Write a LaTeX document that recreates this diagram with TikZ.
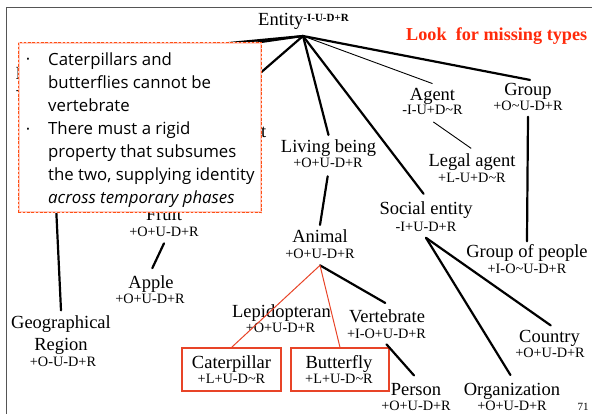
\documentclass[tikz,border=0pt]{standalone}
\usepackage{fontspec}
\setmainfont{Liberation Serif}
\newfontfamily\notefont{Open Sans}
\usetikzlibrary{calc}

\definecolor{notered}{RGB}{255,42,10}
\definecolor{boxred}{RGB}{232,68,40}
\definecolor{dashorange}{RGB}{255,80,20}
\definecolor{notepink}{RGB}{255,205,195}
\definecolor{framegray}{RGB}{85,85,85}

\newcommand\tnamefont{\fontsize{18.5}{22}\selectfont}
\newcommand\tsubfont{\fontsize{14.3}{16}\selectfont}
\newcommand\tnotefont{\notefont\fontsize{16.8}{23}\selectfont}

\begin{document}
\begin{tikzpicture}[x=1pt,y=-1pt,
  nm/.style={font=\tnamefont, inner sep=5pt, anchor=base},
  sub/.style={font=\tsubfont, inner sep=6pt, anchor=base},
  frag/.style={inner sep=0pt, anchor=base west},
  heavy/.style={line width=2.2pt, line cap=round},
  light/.style={line width=0.9pt},
  redlink/.style={line width=1pt, draw=boxred},
  redbox/.style={draw=boxred, line width=1.1pt, inner sep=0pt, minimum height=43pt},
  notebox/.style={fill=white, draw=notepink, line width=1.6pt, inner sep=0pt},
  notedash/.style={draw=dashorange, line width=0.8pt, dash pattern=on 2.5pt off 1.8pt},
  notetext/.style={font=\tnotefont, align=left, inner sep=0pt, anchor=north west},
  bulletmark/.style={font=\notefont\fontsize{9}{10}\selectfont, inner sep=0pt}
]
\useasboundingbox (0,0) rectangle (592,414);

% slide frame
\draw[framegray, line width=1pt] (6,414) -- (6,8) -- (592,8);

% root of the taxonomy
\node[inner sep=0pt, anchor=base west] (entity) at (258,26)
  {{\tnamefont Entity}\raisebox{4.5pt}{\fontsize{11}{12}\selectfont\bfseries -I-U-D+R}};
\coordinate (hub) at (303,36);

\node[anchor=base west, inner sep=0pt, text=notered,
      font=\fontsize{18.2}{20}\selectfont\bfseries] (look) at (406,41) {Look\ \ for missing types};

% branches that run under the note
\coordinate (locroot) at (20,63);
\coordinate (matroot) at (120,62);
\coordinate (physroot) at (205,121);
\coordinate (georoot) at (51,100);
\node[frag, font=\tnamefont] (locfrag) at (15.5,80) {L};
\node[frag, font=\tsubfont] (locsubfrag) at (15.8,95) {-};
\node[frag, font=\tnamefont] (physfrag) at (261,138) {t};
\draw[heavy] (hub) -- (locroot);
\draw[heavy] (hub) -- (matroot);
\draw[heavy] (hub) -- (physroot);

% upper right
\node[nm] (agent) at (432.5,101) {Agent};
\node[sub] (agents) at (432.5,115) {-I-U+D\textasciitilde R};
\node[nm, inner sep=4pt] (group) at (528,96) {Group};
\node[sub] (groups) at (528,110.5) {+O\textasciitilde U-D+R};
\node[nm] (legal) at (472,167) {Legal agent};
\node[sub] (legals) at (472,182.5) {+L-U+D\textasciitilde R};
\node[nm] (living) at (328.5,153) {Living being};
\node[sub] (livings) at (328,168) {+O+U-D+R};
\node[nm] (social) at (426,215) {Social entity};
\node[sub] (socials) at (426,231.5) {-I+U-D+R};
\node[nm] (gop) at (527,258) {Group of people};
\node[sub] (gops) at (527,274) {+I-O\textasciitilde U-D+R};

% animals
\node[nm] (animal) at (320,243) {Animal};
\node[sub] (animals) at (320,259) {+O+U-D+R};
\node[nm] (lepi) at (281.5,317) {Lepidopteran};
\node[sub] (lepis) at (280.5,332) {+O+U-D+R};
\node[nm] (vert) at (387,322) {Vertebrate};
\node[sub] (verts) at (386.5,338) {+I-O+U-D+R};
\node[redbox, minimum width=99pt] (catbox) at (231.5,369.5) {};
\node[nm] (cat) at (231.5,368) {Caterpillar};
\node[sub] (cats) at (231.5,383) {+L+U-D\textasciitilde R};
\node[redbox, minimum width=98pt] (butbox) at (340,369.5) {};
\node[nm] (but) at (339,368) {Butterfly};
\node[sub] (buts) at (339,383) {+L+U-D\textasciitilde R};
\node[nm] (person) at (416,395) {Person};
\node[sub] (persons) at (416,410) {+O+U-D+R};
\node[nm] (org) at (512,395) {Organization};
\node[sub] (orgs) at (512,410) {+O+U-D+R};
\node[nm] (country) at (549.5,342) {Country};
\node[sub] (countrys) at (550,357) {+O+U-D+R};

% left part
\node[nm] (fruit) at (164,221) {Fruit};
\node[sub] (fruits) at (164,237) {+O+U-D+R};
\node[nm] (apple) at (151,289) {Apple};
\node[sub] (apples) at (150,304) {+O+U-D+R};
\node[font=\tnamefont, inner sep=5pt, align=center, anchor=north] (geo) at (61,310.4) {Geographical\\Region};
\node[sub] (geos) at (63,366) {+O-U-D+R};

\node[anchor=base, inner sep=0pt, font=\fontsize{11}{12}\selectfont] (pgnum) at (583,410) {71};

% links
\draw[light] (hub) -- (agent.north);
\draw[heavy, shorten >=-2pt] (hub) -- (group.north);
\draw[heavy] (hub) -- (living.north);
\draw[heavy, shorten >=4pt] (hub) -- (social.north);
\draw[light, shorten <=1pt, shorten >=1pt] (agents.south) -- (legal.north);
\draw[heavy, shorten >=-1.5pt] (groups.south) -- (gop.north);
\draw[heavy, shorten <=2pt] (livings.south) -- (animal.north);
\draw[heavy, shorten >=2pt] (animals.south) -- (vert.north);
\draw[redlink] (animals.south) -- (catbox.north);
\draw[redlink] (animals.south) -- (butbox.north);
\draw[heavy, shorten >=3pt] (verts.south) -- (person.north);
\draw[heavy, shorten >=3pt] (socials.south) -- (org.north);
\draw[heavy, shorten >=-1.5pt] (socials.south) -- (country.north);
\draw[heavy, shorten >=3pt] (fruits.south) -- (apple.north);
\draw[heavy] (georoot) -- (geo.north);

% note laid over the left branches
\node[notebox, minimum width=242pt, minimum height=169pt] (note) at (140,127.5) {};
\draw[notedash] (note.south west) rectangle (note.north east);
\node[bulletmark] (bulleta) at (28,60) {\textbullet};
\node[notetext] (notea) at (48,53)
  {Caterpillars and\\butterflies cannot be\\vertebrate};
\node[bulletmark] (bulletb) at (28,130) {\textbullet};
\node[notetext] (noteb) at (48,122)
  {There must a rigid\\property that subsumes\\the two, supplying identity\\\textit{across temporary phases}};
\end{tikzpicture}
\end{document}
